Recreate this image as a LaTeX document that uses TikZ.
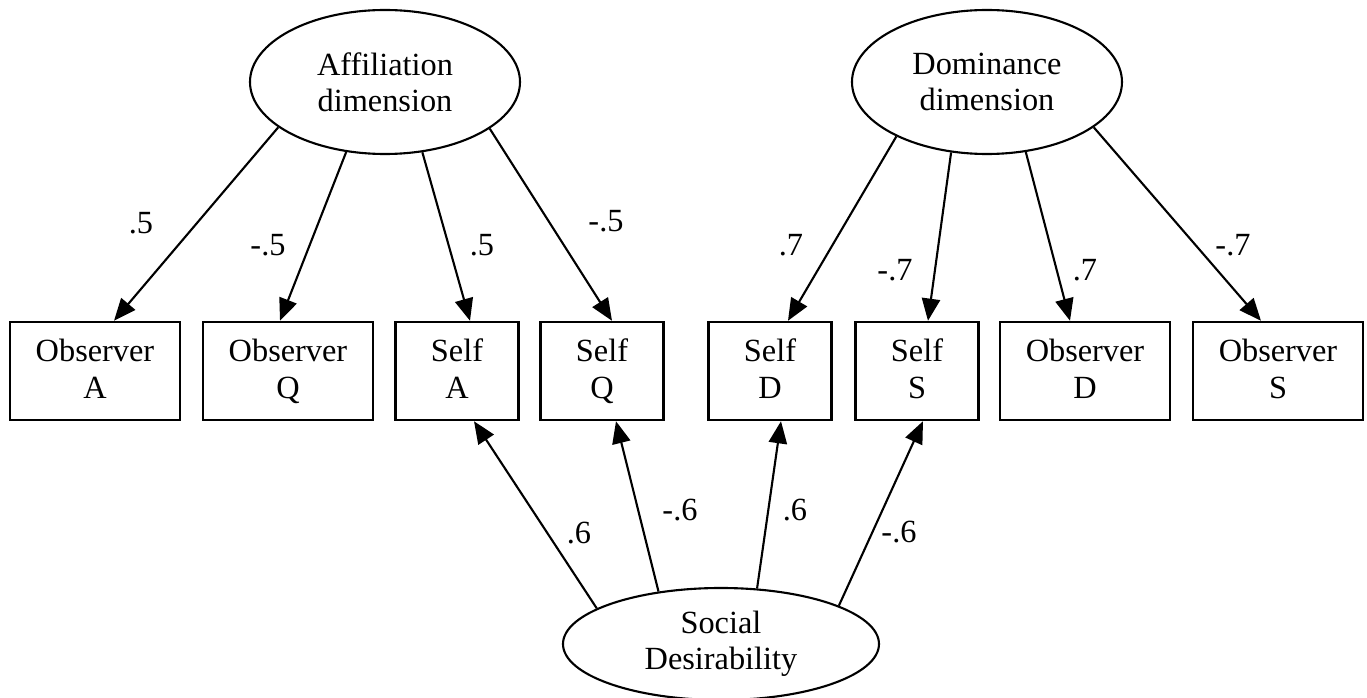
\documentclass[tikz,border=0pt]{standalone}
\usepackage{fontspec}
\setmainfont{Liberation Serif}
\usetikzlibrary{shapes.geometric,arrows.meta}

\tikzset{
    latent/.style={ellipse, draw, line width=0.6pt, inner sep=0pt, align=center,
        font=\fontsize{9.2}{10.3}\selectfont},
    indicator/.style={rectangle, draw, line width=0.7pt, minimum height=0.98cm,
        inner sep=0pt, align=center, font=\fontsize{9.2}{10.5}\selectfont,
        execute at end node={\vphantom{Q}}},
    wide/.style={indicator, minimum width=1.70cm},
    narrow/.style={indicator, minimum width=1.23cm},
    load/.style={-{Triangle[length=6.3pt,width=5.2pt]}, line width=0.6pt},
    coef/.style={font=\fontsize{9.2}{10}\selectfont}
}

\begin{document}
\begin{tikzpicture}
    \useasboundingbox (0,0) rectangle (13.67,6.98);

    % Latent dimensions
    \node[latent, minimum width=2.70cm, minimum height=1.44cm] (aff) at (3.85,6.16) {Affiliation\\dimension};
    \node[latent, minimum width=2.70cm, minimum height=1.44cm] (dom) at (9.87,6.16) {Dominance\\dimension};
    \node[latent, minimum width=3.16cm, minimum height=1.12cm] (soc) at (7.21,0.54) {Social\\Desirability};

    % Ratings
    \node[wide]   (obsA)  at (0.95,3.27)  {Observer\\A};
    \node[wide]   (obsQ)  at (2.88,3.27)  {Observer\\Q};
    \node[narrow] (selfA) at (4.57,3.27)  {Self\\A};
    \node[narrow] (selfQ) at (6.02,3.27)  {Self\\Q};
    \node[narrow] (selfD) at (7.70,3.27)  {Self\\D};
    \node[narrow] (selfS) at (9.17,3.27)  {Self\\S};
    \node[wide]   (obsD)  at (10.85,3.27) {Observer\\D};
    \node[wide]   (obsS)  at (12.78,3.27) {Observer\\S};

    % Affiliation loadings
    \draw[load] (aff.203) -- ([xshift=0.19cm]obsA.north);
    \draw[load] (aff.241) -- ([xshift=-0.08cm]obsQ.north);
    \draw[load] (aff.298) -- ([xshift=0.13cm]selfA.north);
    \draw[load] (aff.336) -- ([xshift=0.10cm]selfQ.north);

    % Dominance loadings
    \draw[load] (dom.211) -- ([xshift=0.18cm]selfD.north);
    \draw[load] (dom.243) -- ([xshift=0.11cm]selfS.north);
    \draw[load] (dom.299) -- ([xshift=-0.15cm]obsD.north);
    \draw[load] (dom.337) -- ([xshift=-0.17cm]obsS.north);

    % Social desirability paths
    \draw[load] (soc.164) -- ([xshift=0.17cm]selfA.south);
    \draw[load] (soc.140) -- ([xshift=0.14cm]selfQ.south);
    \draw[load] (soc.57)  -- ([xshift=0.11cm]selfD.south);
    \draw[load] (soc.18)  -- ([xshift=0.06cm]selfS.south);

    % Coefficients
    \node[coef] (c1)  at (1.41,4.75)  {.5};
    \node[coef] (c2)  at (2.68,4.53)  {-.5};
    \node[coef] (c3)  at (4.82,4.53)  {.5};
    \node[coef] (c4)  at (6.06,4.77)  {-.5};
    \node[coef] (c5)  at (7.91,4.53)  {.7};
    \node[coef] (c6)  at (8.95,4.28)  {-.7};
    \node[coef] (c7)  at (10.85,4.28) {.7};
    \node[coef] (c8)  at (12.33,4.53) {-.7};
    \node[coef] (c9)  at (5.79,1.65)  {.6};
    \node[coef] (c10) at (6.80,1.88)  {-.6};
    \node[coef] (c11) at (7.95,1.88)  {.6};
    \node[coef] (c12) at (8.99,1.66)  {-.6};
\end{tikzpicture}
\end{document}
